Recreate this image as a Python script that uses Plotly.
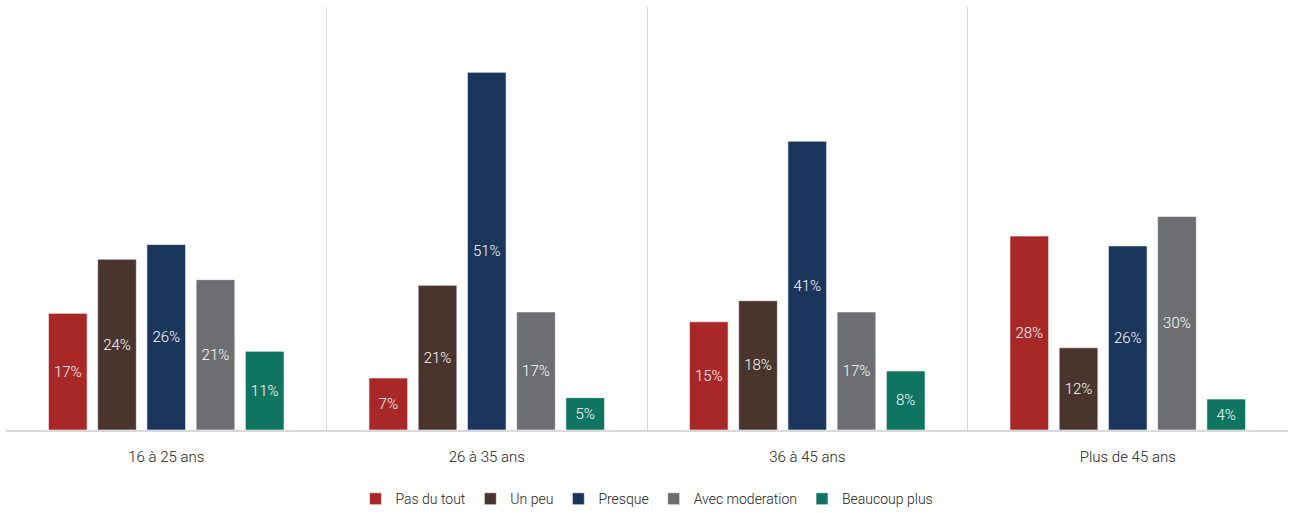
import plotly.graph_objects as go

categories = ["16 à 25 ans", "26 à 35 ans", "36 à 45 ans", "Plus de 45 ans"]
series_names = ["Pas du tout", "Un peu", "Presque", "Avec moderation", "Beaucoup plus"]
pas_du_tout = [16.6, 7.4, 15.4, 27.6]
un_peu = [24.3, 20.6, 18.4, 11.7]
presque = [26.4, 50.9, 41.1, 26.2]
avec_moderation = [21.4, 16.8, 16.8, 30.4]
beaucoup_plus = [11.2, 4.6, 8.4, 4.4]
colors = ["#A82828", "#4A352E", "#1B365D", "#6D6E71", "#0F7560"]

FONT = "Roboto, sans-serif"

fig = go.Figure()
for name, vals, col in zip(series_names,
                           [pas_du_tout, un_peu, presque, avec_moderation, beaucoup_plus],
                           colors):
    fig.add_trace(go.Bar(
        x=categories, y=vals, name=name,
        marker=dict(color=col, line=dict(color="rgba(255,255,255,0.6)", width=1)),
        texttemplate="%{y:.0f}%", textposition="inside",
        insidetextanchor="middle", textangle=0,
        textfont=dict(color="white", size=15, family=FONT, weight=300),
    ))

fig.update_layout(
    width=1290, height=513,
    margin=dict(l=6, r=2, t=7, b=83, autoexpand=False),
    plot_bgcolor="white", paper_bgcolor="white",
    barmode="group", bargap=0.232, bargroupgap=0.214,
    font=dict(family=FONT, size=15, color="#222222"),
    showlegend=True,
    legend=dict(orientation="h", x=0.5, xanchor="center",
                yref="container", y=0.027, yanchor="middle",
                font=dict(size=14, family=FONT, color="#222222", weight=300),
                itemwidth=30, traceorder="normal"),
    uniformtext=dict(minsize=8, mode="show"),
)
fig.update_xaxes(
    tickson="boundaries", showgrid=True, gridcolor="#D9D9D9", gridwidth=1,
    showline=True, linecolor="#D9D9D9", linewidth=1.5,
    ticks="", ticklabelstandoff=12,
    tickfont=dict(size=15, family=FONT, color="#222222", weight=300),
)
fig.update_yaxes(range=[0, 60.2], showgrid=False, showticklabels=False,
                 zeroline=False, showline=False)

fig.write_html("out.html")
